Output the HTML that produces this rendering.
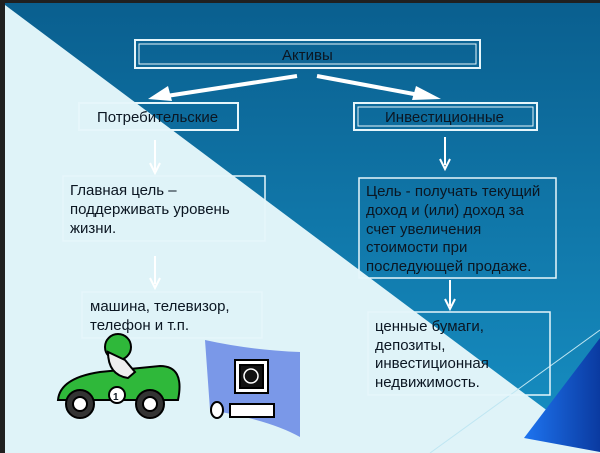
<!DOCTYPE html>
<html><head><meta charset="utf-8"><style>
html,body{margin:0;padding:0;background:#1a1a1a;}
svg{display:block;}
text{font-family:"Liberation Sans",Arial,sans-serif;font-size:15px;fill:#0b1622;}
</style></head><body>
<svg width="600" height="453" viewBox="0 0 600 453" xmlns="http://www.w3.org/2000/svg">
<defs>
<linearGradient id="bg" x1="0" y1="0" x2="0" y2="1">
<stop offset="0" stop-color="#0a5f8f"/><stop offset="1" stop-color="#1790c4"/>
</linearGradient>
<linearGradient id="tri" x1="0" y1="0" x2="1" y2="0">
<stop offset="0" stop-color="#1e74f0"/><stop offset="1" stop-color="#0a3aa0"/>
</linearGradient>
</defs>
<rect x="0" y="0" width="600" height="453" fill="#202020"/>
<rect x="5" y="3" width="595" height="450" fill="url(#bg)"/>
<polygon points="5,5 600,450 600,453 5,453" fill="#dff3f8"/>
<line x1="430" y1="453" x2="600" y2="330" stroke="#bfe6f2" stroke-width="1"/>
<polygon points="524,438 600,338 600,452" fill="url(#tri)"/>
<g fill="none" stroke="#e6f6fb">
<rect x="135" y="40" width="345" height="28" stroke-width="2"/>
<rect x="139" y="44" width="337" height="20" stroke-width="1"/>
<rect x="79" y="103" width="159" height="27" stroke-width="2"/>
<rect x="354" y="103" width="183" height="27" stroke-width="2"/>
<rect x="358" y="107" width="175" height="19" stroke-width="1"/>
<rect x="63" y="176" width="202" height="65" stroke-width="1.5"/>
<rect x="359" y="178" width="197" height="100" stroke-width="1.5"/>
<rect x="82" y="292" width="180" height="46" stroke-width="1.5"/>
<rect x="368" y="312" width="182" height="83" stroke-width="1.5"/>
</g>
<g stroke="#ffffff" stroke-width="4" fill="#fff">
<line x1="297" y1="76" x2="160" y2="97"/>
<line x1="317" y1="76" x2="430" y2="97"/>
</g>
<polygon points="148,99 168,86 172,101" fill="#fff"/>
<polygon points="441,99 416,86 412,100" fill="#fff"/>
<g stroke="#ffffff" stroke-width="2">
<line x1="155" y1="140" x2="155" y2="170"/>
<line x1="445" y1="137" x2="445" y2="165"/>
<line x1="155" y1="256" x2="155" y2="284"/>
<line x1="450" y1="280" x2="450" y2="306"/>
</g>
<g fill="none" stroke="#fff" stroke-width="2">
<polyline points="150,163 155,173 160,163"/>
<polyline points="440,159 445,169 450,159"/>
<polyline points="150,278 155,288 160,278"/>
<polyline points="445,299 450,309 455,299"/>
</g>
<text x="282" y="60">Активы</text>
<text x="97" y="122">Потребительские</text>
<text x="385" y="122">Инвестиционные</text>
<text x="70" y="195">Главная цель  –</text>
<text x="70" y="214">поддерживать уровень</text>
<text x="70" y="233">жизни.</text>
<text x="366" y="196">Цель - получать текущий</text>
<text x="366" y="215">доход и (или) доход за</text>
<text x="366" y="234">счет увеличения</text>
<text x="366" y="252">стоимости при</text>
<text x="366" y="271">последующей продаже.</text>
<text x="90" y="311">машина, телевизор,</text>
<text x="90" y="330">телефон и т.п.</text>
<text x="375" y="331">ценные бумаги,</text>
<text x="375" y="350">депозиты,</text>
<text x="375" y="368">инвестиционная</text>
<text x="375" y="387">недвижимость.</text>
<!-- car -->
<g stroke="#000" stroke-width="2">
<path d="M58,400 Q60,378 100,372 L160,366 Q185,366 178,400 Z" fill="#2fb83a"/>
<circle cx="118" cy="347" r="13" fill="#2fb83a"/>
<path d="M108,352 Q108,375 128,378 L135,372 L125,360 Z" fill="#eee"/>
<circle cx="117" cy="395" r="8" fill="#fff"/>
<circle cx="80" cy="404" r="14" fill="#333"/>
<circle cx="80" cy="404" r="7" fill="#fff"/>
<circle cx="150" cy="404" r="14" fill="#333"/>
<circle cx="150" cy="404" r="7" fill="#fff"/>
</g>
<text x="113" y="400" style="font-size:10px;font-weight:bold">1</text>
<!-- computer -->
<path d="M205,340 Q250,350 300,352 L300,437 Q270,420 210,410 Z" fill="#7a98e8"/>
<g stroke="#000" stroke-width="2">
<rect x="235" y="360" width="33" height="33" fill="#fff"/>
<rect x="240" y="365" width="23" height="23" fill="#111"/>
<rect x="230" y="404" width="44" height="13" fill="#fff"/>
<ellipse cx="217" cy="410" rx="6" ry="8" fill="#fff"/>
</g>
<circle cx="251" cy="376" r="7" fill="none" stroke="#fff" stroke-width="1.5"/>
</svg>
</body></html>
